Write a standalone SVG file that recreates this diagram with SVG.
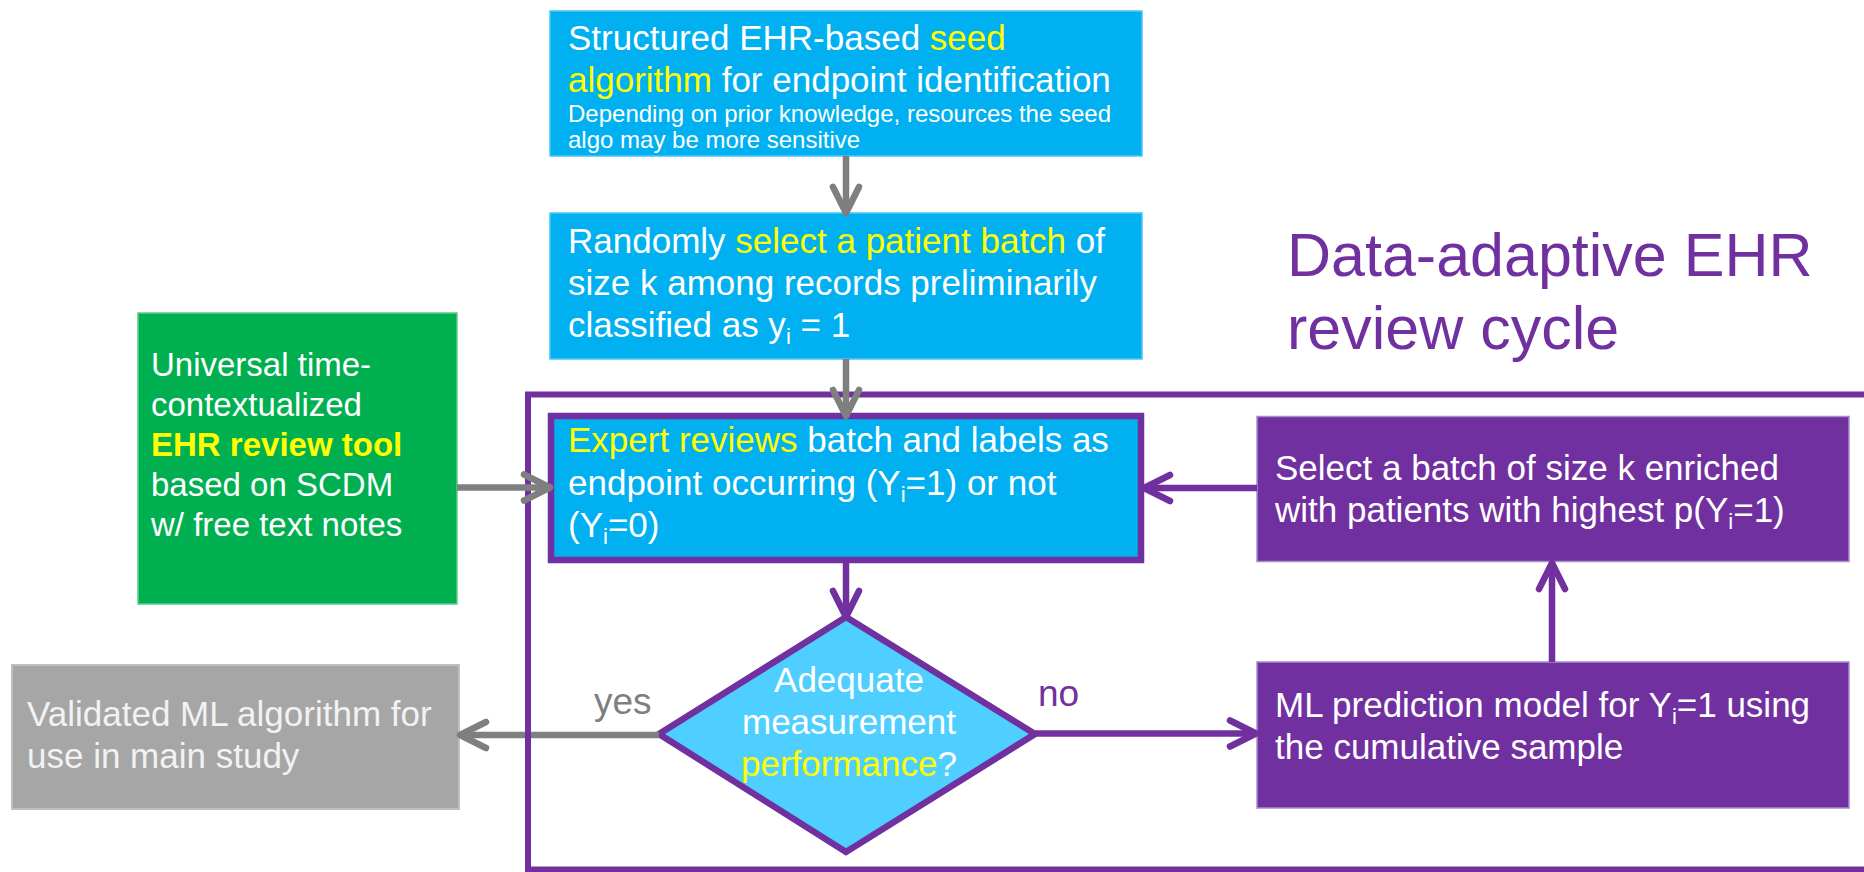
<svg xmlns="http://www.w3.org/2000/svg" width="1864" height="872" viewBox="0 0 1864 872">
  <style>
    text { font-family: "Liberation Sans", Arial, sans-serif; fill: #FFFFFF; }
    .t35 { font-size: 35px; }
    .t33 { font-size: 33px; }
    .t24 { font-size: 24px; }
    .hl { fill: #FFFF00; }
    .sub { font-size: 22px; }
    .blue { fill: #00B0F0; stroke: #4CC6F2; stroke-width: 1.5; }
    .purple-box { fill: #7030A0; stroke: #A98CCB; stroke-width: 1.5; }
    .gray-line { fill: none; stroke: #7F7F7F; stroke-width: 6.5; }
    .purple-line { fill: none; stroke: #7030A0; stroke-width: 6.5; }
  </style>
  <defs>
    <marker id="ah-gray" markerUnits="userSpaceOnUse" orient="auto" overflow="visible" refX="0" refY="0" markerWidth="1" markerHeight="1">
      <path d="M-26,-13 L0,0 L-26,13" fill="none" stroke="#7F7F7F" stroke-width="6.5" stroke-linecap="round" stroke-linejoin="round"/>
    </marker>
    <marker id="ah-purple" markerUnits="userSpaceOnUse" orient="auto" overflow="visible" refX="0" refY="0" markerWidth="1" markerHeight="1">
      <path d="M-26,-13 L0,0 L-26,13" fill="none" stroke="#7030A0" stroke-width="6.5" stroke-linecap="round" stroke-linejoin="round"/>
    </marker>
  </defs>

  <rect width="1864" height="872" fill="#FFFFFF"/>

  <!-- review cycle frame -->
  <g id="cycle-frame">
    <rect x="528" y="394.5" width="1400" height="475" fill="none" stroke="#7030A0" stroke-width="6"/>
    <text x="1287" y="276" style="font-size:61px;fill:#7030A0">Data-adaptive EHR</text>
    <text x="1287" y="349" style="font-size:61px;fill:#7030A0">review cycle</text>
  </g>

  <!-- seed algorithm -->
  <g id="seed-algorithm">
    <rect class="blue" x="550" y="11" width="592" height="145"/>
    <text class="t35" x="568" y="50">Structured EHR-based <tspan class="hl">seed</tspan></text>
    <text class="t35" x="568" y="92"><tspan class="hl">algorithm</tspan> for endpoint identification</text>
    <text class="t24" x="568" y="122">Depending on prior knowledge, resources the seed</text>
    <text class="t24" x="568" y="148">algo may be more sensitive</text>
  </g>

  <!-- random batch -->
  <g id="random-batch">
    <rect class="blue" x="550" y="213" width="592" height="146"/>
    <text class="t35" x="568" y="253">Randomly <tspan class="hl">select a patient batch</tspan> of</text>
    <text class="t35" x="568" y="295">size k among records preliminarily</text>
    <text class="t35" x="568" y="337">classified as y<tspan class="sub" dy="7">i</tspan><tspan dy="-7"> = 1</tspan></text>
  </g>

  <!-- review tool -->
  <g id="review-tool">
    <rect x="138" y="313" width="319" height="291" fill="#00B050" stroke="#5CCB8C" stroke-width="1.5"/>
    <text class="t33" x="151" y="376">Universal time-</text>
    <text class="t33" x="151" y="416">contextualized</text>
    <text class="t33 hl" x="151" y="456" font-weight="bold">EHR review tool</text>
    <text class="t33" x="151" y="496">based on SCDM</text>
    <text class="t33" x="151" y="536">w/ free text notes</text>
  </g>

  <!-- validated algorithm -->
  <g id="validated-algorithm">
    <rect x="12" y="665" width="447" height="144" fill="#A6A6A6" stroke="#BFBFBF" stroke-width="2"/>
    <text class="t35" x="27" y="726" style="fill:#F2F2F2">Validated ML algorithm for</text>
    <text class="t35" x="27" y="768" style="fill:#F2F2F2">use in main study</text>
  </g>

  <!-- expert review -->
  <g id="expert-review">
    <rect x="551" y="416" width="590" height="144" fill="#00B0F0" stroke="#7030A0" stroke-width="6.5"/>
    <text class="t35" x="568" y="452"><tspan class="hl">Expert reviews</tspan> batch and labels as</text>
    <text class="t35" x="568" y="495">endpoint occurring (Y<tspan class="sub" dy="7">i</tspan><tspan dy="-7">=1) or not</tspan></text>
    <text class="t35" x="568" y="537">(Y<tspan class="sub" dy="7">i</tspan><tspan dy="-7">=0)</tspan></text>
  </g>

  <!-- performance decision -->
  <g id="performance-check">
    <polygon points="846,617 1035,734 846,852 659,734" fill="#4FCFFF" stroke="#7030A0" stroke-width="6.5" stroke-linejoin="miter"/>
    <text class="t35" x="849" y="692" text-anchor="middle">Adequate</text>
    <text class="t35" x="849" y="734" text-anchor="middle">measurement</text>
    <text class="t35" x="849" y="776" text-anchor="middle"><tspan class="hl">performance</tspan>?</text>
  </g>

  <!-- enriched batch -->
  <g id="enriched-batch">
    <rect class="purple-box" x="1257" y="416.5" width="592" height="145"/>
    <text class="t35" x="1275" y="480">Select a batch of size k enriched</text>
    <text class="t35" x="1275" y="522">with patients with highest p(Y<tspan class="sub" dy="7">i</tspan><tspan dy="-7">=1)</tspan></text>
  </g>

  <!-- prediction model -->
  <g id="prediction-model">
    <rect class="purple-box" x="1257" y="662" width="592" height="146"/>
    <text class="t35" x="1275" y="717">ML prediction model for Y<tspan class="sub" dy="7">i</tspan><tspan dy="-7">=1 using</tspan></text>
    <text class="t35" x="1275" y="759">the cumulative sample</text>
  </g>

  <!-- connectors -->
  <g id="connectors">
    <path class="gray-line" d="M846,156 V213" marker-end="url(#ah-gray)"/>
    <path class="gray-line" d="M846,359 V416" marker-end="url(#ah-gray)"/>
    <path class="gray-line" d="M457,487.5 H550" marker-end="url(#ah-gray)"/>
    <path class="purple-line" d="M846,563 V617" marker-end="url(#ah-purple)"/>
    <!-- yes branch passes behind the frame edge -->
    <path class="gray-line" d="M659,735 H531 M525,735 H460" marker-end="url(#ah-gray)"/>
    <path class="purple-line" d="M1035,733.5 H1256" marker-end="url(#ah-purple)"/>
    <path class="purple-line" d="M1552,662 V563" marker-end="url(#ah-purple)"/>
    <path class="purple-line" d="M1257,488 H1144" marker-end="url(#ah-purple)"/>
    <text x="594" y="714" style="font-size:37px;fill:#7F7F7F">yes</text>
    <text x="1038" y="706" style="font-size:37px;fill:#7030A0">no</text>
  </g>
</svg>
